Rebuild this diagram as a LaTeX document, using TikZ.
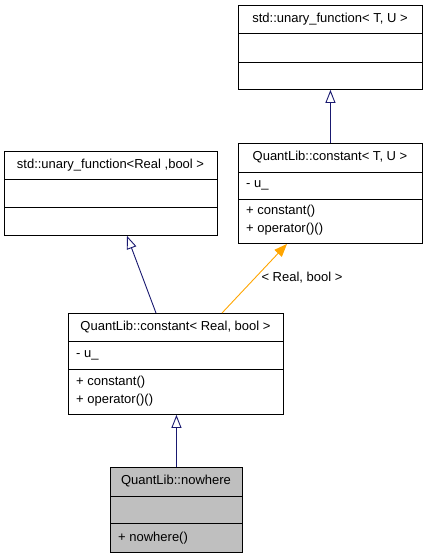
\documentclass[tikz,border=0pt]{standalone}
\usepackage{fontspec}
\setmainfont{Liberation Sans}
\usetikzlibrary{arrows.meta,calc}
\definecolor{edgeblue}{RGB}{25,25,112}
\definecolor{edgeorange}{RGB}{255,165,0}
\definecolor{boxgray}{RGB}{191,191,191}
\begin{document}
\begin{tikzpicture}[x=1pt,y=-1pt,
  box/.style={draw=black,line width=0.9pt,rectangle,anchor=north west,inner sep=0pt},
  title/.style={inner sep=0pt,font=\fontsize{13}{14}\selectfont},
  member/.style={inner sep=0pt,anchor=west,font=\fontsize{13}{14}\selectfont},
  div/.style={draw=black,line width=0.9pt},
  inh/.style={draw=edgeblue,line width=0.9pt,-{Triangle[open,length=13pt,width=10pt]}},
  tmpl/.style={draw=edgeorange,line width=0.9pt,-{Triangle[length=13pt,width=10pt]}},
  lbl/.style={inner sep=0pt,font=\fontsize{13}{14}\selectfont}]
\useasboundingbox (0,0) rectangle (427,557);
% A
\node[box,minimum width=184pt,minimum height=84pt] (A) at (238,5) {};
\node[title] (At) at (330,19) {std::unary\_function< T, U >};
\draw[div] (238,33) -- (422,33);
\draw[div] (238,62) -- (422,62);
% B
\node[box,minimum width=184pt,minimum height=100pt] (B) at (238,143) {};
\node[title] (Bt) at (330,157.5) {QuantLib::constant< T, U >};
\draw[div] (238,172) -- (422,172);
\draw[div] (238,199) -- (422,199);
\node[member] (Ba) at (246,185.5) {- u\_};
\node[member] (Bm1) at (246,211) {+ constant()};
\node[member] (Bm2) at (246,229) {+ operator()()};
% C
\node[box,minimum width=213pt,minimum height=84pt] (C) at (4,151) {};
\node[title] (Ct) at (110.5,165) {std::unary\_function<Real ,bool >};
\draw[div] (4,179) -- (217,179);
\draw[div] (4,207) -- (217,207);
% D
\node[box,minimum width=215pt,minimum height=101pt] (D) at (68,313) {};
\node[title] (Dt) at (175.5,327) {QuantLib::constant< Real, bool >};
\draw[div] (68,341) -- (283,341);
\draw[div] (68,369) -- (283,369);
\node[member] (Da) at (76,355) {- u\_};
\node[member] (Dm1) at (76,382) {+ constant()};
\node[member] (Dm2) at (76,400) {+ operator()()};
% E
\node[box,fill=boxgray,minimum width=132pt,minimum height=85pt] (E) at (110,467) {};
\node[title] (Et) at (176,481) {QuantLib::nowhere};
\draw[div] (110,496) -- (242,496);
\draw[div] (110,523) -- (242,523);
\node[member] (Em) at (118,538) {+ nowhere()};
% edges
\draw[inh] (B.north) -- (A.south);
\draw[inh] ($(D.north west)+(88,0)$) -- ($(C.south west)+(123,0)$);
\draw[tmpl] ($(D.north west)+(154,0)$) -- ($(B.south west)+(49,0)$);
\node[lbl] (L) at (302,278) {< Real, bool >};
\draw[inh] (E.north) -- (E.north |- D.south);
\end{tikzpicture}
\end{document}
